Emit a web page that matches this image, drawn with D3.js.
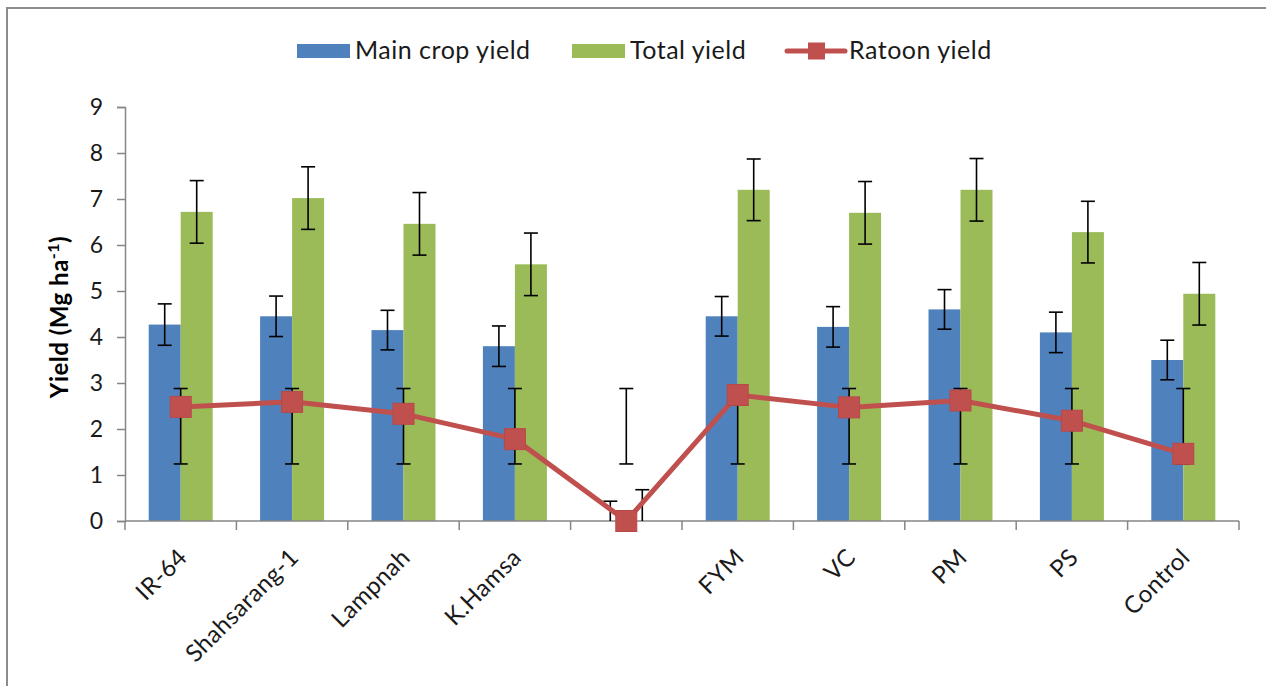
<!DOCTYPE html>
<html>
<head>
<meta charset="utf-8">
<script src="https://cdn.jsdelivr.net/npm/d3@7"></script>
<style>
  html, body { margin: 0; padding: 0; background: #fff; }
  svg { display: block; font-family: Lato, "Open Sans", sans-serif; }
</style>
</head>
<body>
<svg id="chart" width="1266" height="686"></svg>
<script>
// Rice yield by variety and nutrient source (Mg ha-1)
const categories = ["IR-64", "Shahsarang-1", "Lampnah", "K.Hamsa", "", "FYM", "VC", "PM", "PS", "Control"];
const mainYield   = [4.27, 4.45, 4.15, 3.80, 0, 4.45, 4.22, 4.60, 4.10, 3.50];
const mainErr     = [0.45, 0.44, 0.43, 0.44, 0.43, 0.43, 0.44, 0.43, 0.44, 0.43];
const totalYield  = [6.72, 7.02, 6.46, 5.58, 0, 7.20, 6.70, 7.20, 6.28, 4.94];
const totalErr    = [0.68, 0.68, 0.68, 0.68, 0.68, 0.67, 0.68, 0.68, 0.67, 0.68];
const ratoonYield = [2.48, 2.59, 2.33, 1.78, 0, 2.74, 2.47, 2.62, 2.18, 1.46];
const ratoonLow   = [1.24, 1.24, 1.24, 1.24, 1.24, 1.24, 1.24, 1.24, 1.24, 1.24];
const ratoonHigh  = [2.88, 2.88, 2.88, 2.88, 2.88, 2.88, 2.88, 2.88, 2.88, 2.88];
const yTicks      = [0, 1, 2, 3, 4, 5, 6, 7, 8, 9];
const seriesNames = ["Main crop yield", "Total yield", "Ratoon yield"];

const colors = { main: "#4f81bd", total: "#9bbb59", ratoon: "#c0504d", axis: "#868686", text: "#1a1a1a" };

const svg = d3.select("#chart");

// outer chart frame
svg.append("rect")
  .attr("x", 7).attr("y", 8).attr("width", 1300).attr("height", 720)
  .attr("fill", "#fff").attr("stroke", "#8c8c8c").attr("stroke-width", 2);

const plot = { left: 125, right: 1239, top: 107, bottom: 521 };

const x = d3.scaleBand().domain(d3.range(categories.length))
  .range([plot.left, plot.right]).paddingInner(0).paddingOuter(0);
const y = d3.scaleLinear().domain([0, 9]).range([plot.bottom, plot.top]);

const barW = 32;
const cx = i => x(i) + x.bandwidth() / 2;

// y axis
const yAxis = svg.append("g").attr("transform", `translate(${plot.left},0)`)
  .call(d3.axisLeft(y).tickValues(yTicks).tickSize(8).tickPadding(14).tickFormat(d3.format("d")));
yAxis.select(".domain").attr("stroke", colors.axis).attr("stroke-width", 1.5);
yAxis.selectAll(".tick line").attr("stroke", colors.axis).attr("stroke-width", 1.5);
yAxis.selectAll(".tick text").attr("fill", colors.text).style("font-size", "23px")
  .style("font-family", "Lato, sans-serif");

// y axis title with superscript
const yTitle = svg.append("text")
  .attr("transform", `translate(68,${317}) rotate(-90)`)
  .attr("text-anchor", "middle")
  .attr("fill", "#000")
  .style("font-size", "24px").style("font-weight", "bold").style("letter-spacing", "0.5px");
yTitle.append("tspan").text("Yield (Mg ha");
yTitle.append("tspan").attr("dy", -9).style("font-size", "16px").text("-1");
yTitle.append("tspan").attr("dy", 9).text(")");

// bars
const bars = svg.append("g");
bars.selectAll(".bar-main").data(mainYield).join("rect")
  .attr("x", (d, i) => cx(i) - barW).attr("width", barW)
  .attr("y", d => y(d)).attr("height", d => y(0) - y(d))
  .attr("fill", colors.main);
bars.selectAll(".bar-total").data(totalYield).join("rect")
  .attr("x", (d, i) => cx(i)).attr("width", barW)
  .attr("y", d => y(d)).attr("height", d => y(0) - y(d))
  .attr("fill", colors.total);

// x axis (category boundaries as ticks)
const xEdges = d3.range(categories.length + 1).map(i => plot.left + i * x.bandwidth());
const xAxis = svg.append("g");
xAxis.append("line").attr("x1", plot.left).attr("x2", plot.right)
  .attr("y1", y(0)).attr("y2", y(0)).attr("stroke", colors.axis).attr("stroke-width", 1.5);
xAxis.selectAll(".xt").data(xEdges).join("line")
  .attr("x1", d => d).attr("x2", d => d).attr("y1", y(0)).attr("y2", y(0) + 9)
  .attr("stroke", colors.axis).attr("stroke-width", 1.5);
xAxis.selectAll(".xl").data(categories).join("text")
  .attr("transform", (d, i) => `translate(${cx(i) + 2},${y(0) + 32}) rotate(-45)`)
  .attr("text-anchor", "end").attr("dy", "0.35em")
  .attr("fill", colors.text).style("font-size", "24px").style("letter-spacing", "0.4px")
  .text(d => d);

// error bars
function errorBar(g, xc, lo, hi, cap) {
  lo = Math.max(lo, 0);
  g.append("line").attr("x1", xc).attr("x2", xc).attr("y1", y(lo)).attr("y2", y(hi));
  g.append("line").attr("x1", xc - cap / 2).attr("x2", xc + cap / 2).attr("y1", y(hi)).attr("y2", y(hi));
  if (lo > 0) g.append("line").attr("x1", xc - cap / 2).attr("x2", xc + cap / 2).attr("y1", y(lo)).attr("y2", y(lo));
}
const errG = svg.append("g").attr("stroke", "#000").attr("stroke-width", 1.6);
mainYield.forEach((v, i) => errorBar(errG, cx(i) - barW / 2, v - mainErr[i], v + mainErr[i], 14));
totalYield.forEach((v, i) => errorBar(errG, cx(i) + barW / 2, v - totalErr[i], v + totalErr[i], 14));
ratoonYield.forEach((v, i) => errorBar(errG, cx(i), ratoonLow[i], ratoonHigh[i], 14));

// ratoon line with square markers
const line = d3.line().x((d, i) => cx(i)).y(d => y(d));
svg.append("path").datum(ratoonYield)
  .attr("d", line).attr("fill", "none")
  .attr("stroke", colors.ratoon).attr("stroke-width", 5).attr("stroke-linejoin", "round");
const mk = 21;
svg.selectAll(".mk").data(ratoonYield).join("rect")
  .attr("x", (d, i) => cx(i) - mk / 2).attr("y", d => y(d) - mk / 2)
  .attr("width", mk).attr("height", mk)
  .attr("fill", colors.ratoon).attr("stroke", "#b9474a").attr("stroke-width", 1);

// legend
const legend = svg.append("g").style("font-size", "25px").style("letter-spacing", "0.5px").attr("fill", colors.text);
const legItems = [
  { name: seriesNames[0], type: "rect", color: colors.main, x: 297 },
  { name: seriesNames[1], type: "rect", color: colors.total, x: 572 },
  { name: seriesNames[2], type: "line", color: colors.ratoon, x: 787 }
];
legItems.forEach(it => {
  if (it.type === "rect") {
    legend.append("rect").attr("x", it.x).attr("y", 44).attr("width", 53).attr("height", 14).attr("fill", it.color);
    legend.append("text").attr("x", it.x + 58).attr("y", 59).text(it.name);
  } else {
    legend.append("line").attr("x1", it.x).attr("x2", it.x + 58).attr("y1", 51).attr("y2", 51)
      .attr("stroke", it.color).attr("stroke-width", 5).attr("stroke-linecap", "round");
    legend.append("rect").attr("x", it.x + 21).attr("y", 42.5).attr("width", 17).attr("height", 17).attr("fill", it.color);
    legend.append("text").attr("x", it.x + 62).attr("y", 59).text(it.name);
  }
});
</script>
</body>
</html>
